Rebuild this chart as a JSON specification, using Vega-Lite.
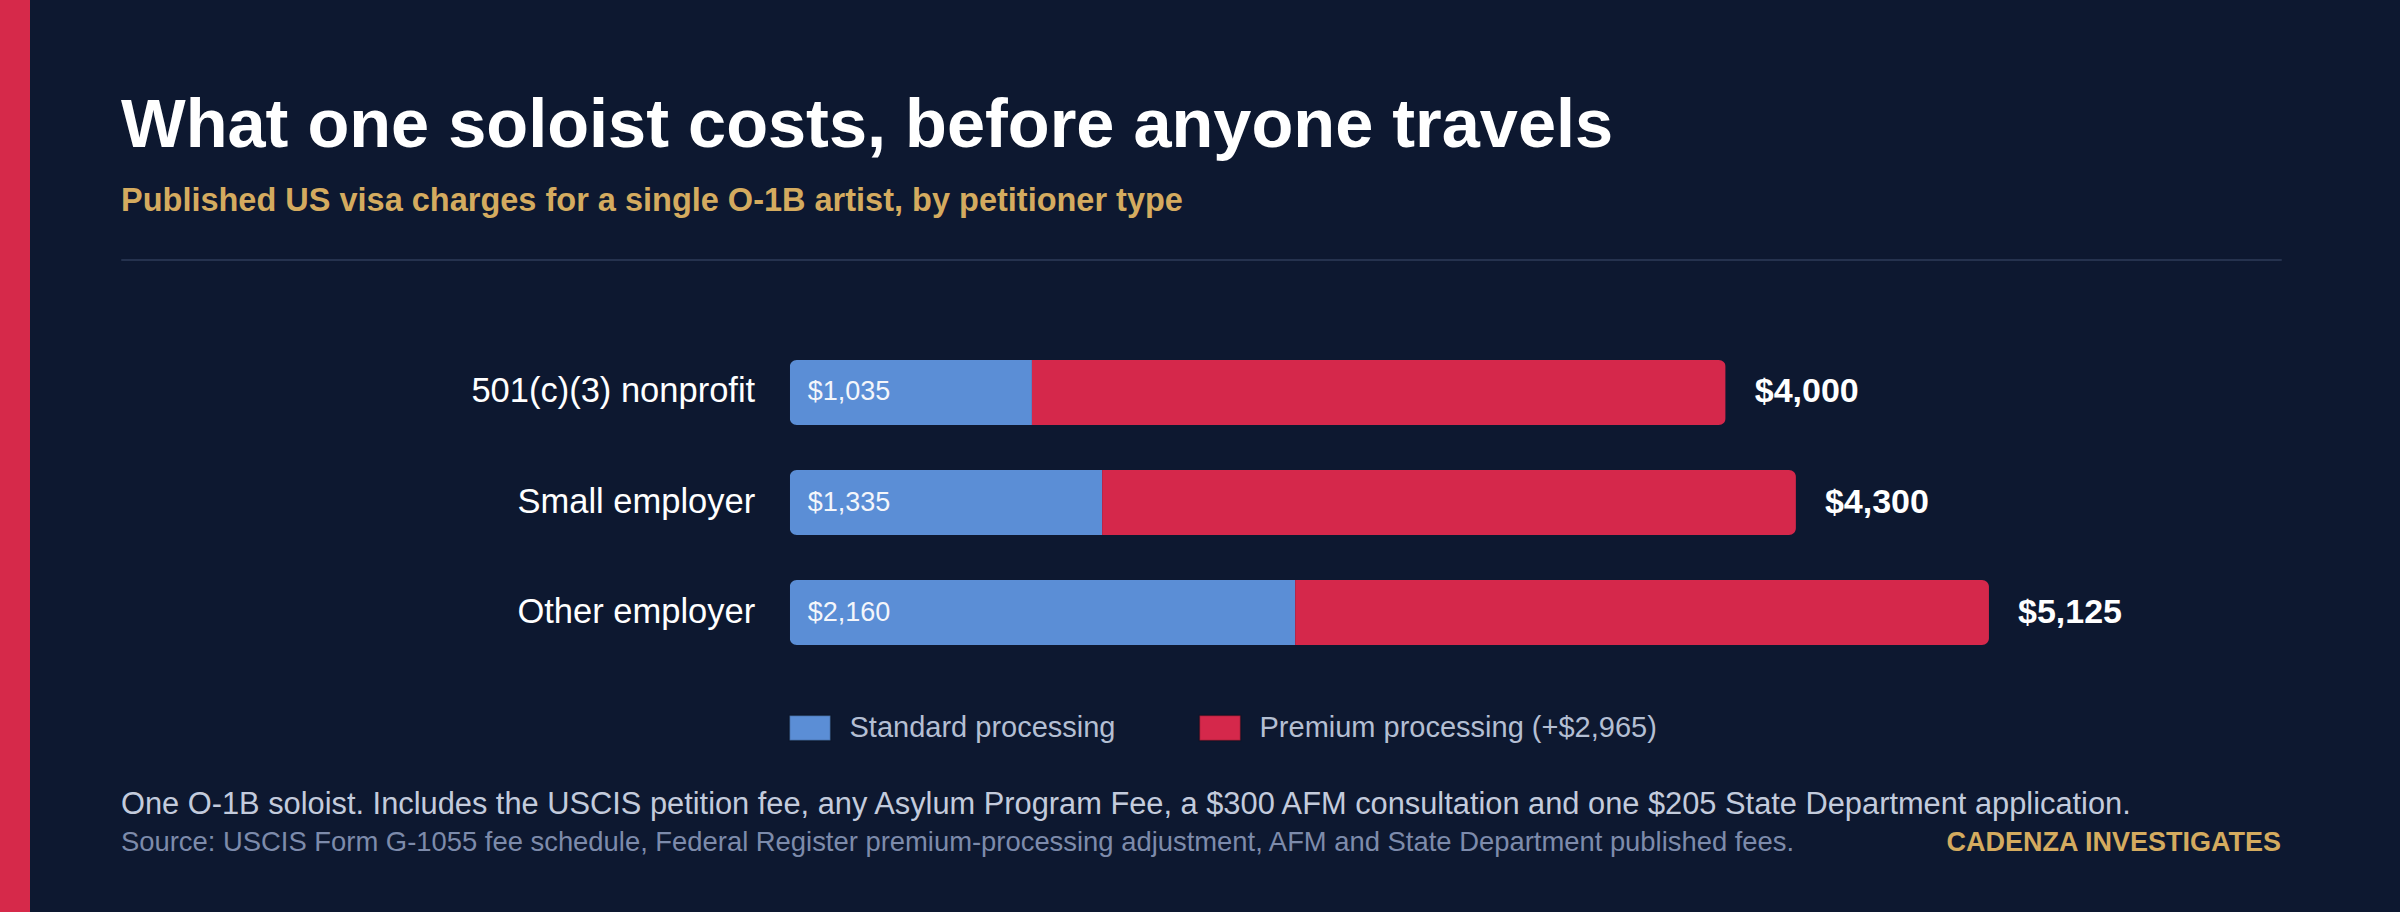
{
  "$schema": "https://vega.github.io/schema/vega-lite/v6.json",
  "background": "#0d1830",
  "padding": {"left": 0, "top": 0, "right": 120, "bottom": 0},
  "datasets": {
    "segments": [
      {"petitioner": "501(c)(3) nonprofit", "processing": "Standard processing", "amount": 1035},
      {"petitioner": "501(c)(3) nonprofit", "processing": "Premium processing (+$2,965)", "amount": 2965},
      {"petitioner": "Small employer", "processing": "Standard processing", "amount": 1335},
      {"petitioner": "Small employer", "processing": "Premium processing (+$2,965)", "amount": 2965},
      {"petitioner": "Other employer", "processing": "Standard processing", "amount": 2160},
      {"petitioner": "Other employer", "processing": "Premium processing (+$2,965)", "amount": 2965}
    ],
    "totals": [
      {"petitioner": "501(c)(3) nonprofit", "standard": 1035, "total": 4000},
      {"petitioner": "Small employer", "standard": 1335, "total": 4300},
      {"petitioner": "Other employer", "standard": 2160, "total": 5125}
    ]
  },
  "resolve": {"scale": {"color": "independent"}, "legend": {"color": "independent"}},
  "hconcat": [
    {
      "width": 30,
      "height": 912,
      "data": {"values": []},
      "mark": "point",
      "view": {"fill": "#d6294a", "stroke": null}
    },
    {
      "spacing": 44,
      "resolve": {"scale": {"color": "independent"}, "legend": {"color": "independent"}},
      "vconcat": [
        {
          "width": 2160,
          "height": 47,
          "data": {"values": []},
          "mark": "point"
        },
        {
          "width": 2160,
          "height": 1,
          "data": {"values": []},
          "mark": "point",
          "view": {"stroke": "#25324e", "strokeWidth": 1},
          "title": {
            "text": "What one soloist costs, before anyone travels",
            "subtitle": "Published US visa charges for a single O-1B artist, by petitioner type",
            "anchor": "start",
            "baseline": "top",
            "fontSize": 68.5,
            "fontWeight": "bold",
            "color": "#ffffff",
            "subtitleFontSize": 32.5,
            "subtitleFontWeight": "bold",
            "subtitleColor": "#d4ab5f",
            "subtitlePadding": 23,
            "offset": 41
          }
        },
        {
          "width": 2160,
          "height": 395,
          "layer": [
            {
              "data": {"name": "segments"},
              "mark": {"type": "bar", "cornerRadius": 7},
              "encoding": {
                "y": {
                  "field": "petitioner",
                  "type": "nominal",
                  "sort": ["501(c)(3) nonprofit", "Small employer", "Other employer"],
                  "scale": {"paddingInner": 0.41, "paddingOuter": 0.5},
                  "axis": {
                    "title": null,
                    "domain": false,
                    "ticks": false,
                    "offset": -668.7,
                    "labelPadding": 35,
                    "labelFontSize": 34.5,
                    "labelColor": "#ffffff",
                    "labelLimit": 1000
                  }
                },
                "x": {
                  "field": "amount",
                  "type": "quantitative",
                  "stack": "zero",
                  "scale": {"domain": [-2858, 6373], "nice": false, "zero": false},
                  "axis": null
                },
                "color": {
                  "field": "processing",
                  "type": "nominal",
                  "scale": {
                    "domain": ["Standard processing", "Premium processing (+$2,965)"],
                    "range": ["#5b8ed6", "#d5284b"]
                  },
                  "legend": {
                    "orient": "none",
                    "legendX": 667.5,
                    "legendY": 401,
                    "direction": "horizontal",
                    "title": null,
                    "symbolType": "M-1,-0.61H1V0.61H-1Z",
                    "symbolSize": 1681,
                    "symbolStrokeColor": "rgba(0,0,0,0.3)",
                    "symbolStrokeWidth": 1.5,
                    "labelFontSize": 29,
                    "labelColor": "#b4bfd3",
                    "labelOffset": 18,
                    "labelLimit": 1000,
                    "columnPadding": 81,
                    "padding": 0
                  }
                },
                "order": {"field": "processing", "sort": "descending"}
              }
            },
            {
              "data": {"name": "totals"},
              "mark": {"type": "text", "align": "left", "baseline": "middle", "dx": 18, "fontSize": 27, "color": "#f4f6fb"},
              "encoding": {
                "y": {"field": "petitioner", "type": "nominal", "sort": ["501(c)(3) nonprofit", "Small employer", "Other employer"]},
                "x": {"datum": 0, "type": "quantitative"},
                "text": {"field": "standard", "type": "quantitative", "format": "$,"}
              }
            },
            {
              "data": {"name": "totals"},
              "mark": {"type": "text", "align": "left", "baseline": "middle", "dx": 29, "fontSize": 34, "fontWeight": "bold", "color": "#ffffff"},
              "encoding": {
                "y": {"field": "petitioner", "type": "nominal", "sort": ["501(c)(3) nonprofit", "Small employer", "Other employer"]},
                "x": {"field": "total", "type": "quantitative"},
                "text": {"field": "total", "type": "quantitative", "format": "$,"}
              }
            }
          ]
        },
        {
          "spacing": 0,
          "bounds": "flush",
          "hconcat": [
            {
              "width": 1600,
              "height": 1,
              "data": {"values": []},
              "mark": "point",
              "title": {
                "text": "One O-1B soloist. Includes the USCIS petition fee, any Asylum Program Fee, a $300 AFM consultation and one $205 State Department application.",
                "subtitle": "Source: USCIS Form G-1055 fee schedule, Federal Register premium-processing adjustment, AFM and State Department published fees.",
                "anchor": "start",
                "baseline": "top",
                "fontSize": 30.8,
                "fontWeight": "normal",
                "color": "#c3cbdc",
                "subtitleFontSize": 27.4,
                "subtitleColor": "#7d8bab",
                "subtitlePadding": 8,
                "offset": 8
              }
            },
            {
              "width": 560,
              "height": 1,
              "data": {"values": []},
              "mark": "point",
              "title": {
                "text": "CADENZA INVESTIGATES",
                "anchor": "end",
                "baseline": "top",
                "fontSize": 27,
                "fontWeight": "bold",
                "color": "#d4ab5f",
                "offset": 8
              }
            }
          ]
        }
      ]
    }
  ],
  "spacing": 90,
  "config": {
    "font": "Liberation Sans",
    "view": {"stroke": null},
    "title": {"font": "Liberation Sans", "subtitleFont": "Liberation Sans"},
    "axis": {"labelFont": "Liberation Sans"},
    "legend": {"labelFont": "Liberation Sans"}
  }
}
